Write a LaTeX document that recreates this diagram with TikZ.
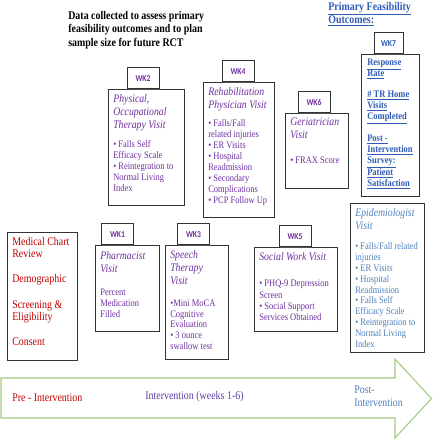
\documentclass[tikz,border=0pt]{standalone}
\usepackage{fontspec}
\setmainfont[FakeStretch=0.85]{Liberation Serif}
\newfontfamily\tabfont[FakeStretch=0.85]{Carlito}
\usepackage{xcolor}
\usepackage{tikz}
\usetikzlibrary{shadows}

\definecolor{purp}{RGB}{112,48,160}
\definecolor{ivpurp}{RGB}{92,60,168}
\definecolor{redtxt}{RGB}{192,0,0}
\definecolor{bluetxt}{RGB}{47,92,180}
\definecolor{lblue}{RGB}{79,129,189}
\definecolor{arrgreen}{RGB}{165,202,130}

\begin{document}
\begin{tikzpicture}[x=1pt, y=-1pt, semithick]
 	  \tikzstyle{box}=[draw=black!80, fill=white, anchor=north west, inner sep=0pt,
        drop shadow={shadow xshift=0.8pt, shadow yshift=-0.8pt, fill=black!60, opacity=0.6}]
 	  \tikzstyle{tab}=[box, anchor=south, minimum width=32, minimum height=21, text=purp,
        font=\tabfont\bfseries\fontsize{9}{10}\selectfont]
 	  \tikzstyle{txt}=[anchor=north west, inner sep=0pt, align=left]
 	  \tikzstyle{hd}=[txt, text=purp, font=\itshape\fontsize{11.5}{12.8}\selectfont]
 	  \tikzstyle{bul}=[txt, text=purp, font=\fontsize{10}{11}\selectfont]
\useasboundingbox (0,0) rectangle (432,440);
% timeline arrow
\draw[arrgreen, line width=1.1pt, line join=miter]
    (1,378) -- (395,378) -- (395,359) -- (431.5,398.5) -- (395,438) -- (395,418) -- (1,418) -- cycle;
\node[anchor=west, inner sep=0pt, text=redtxt, font=\fontsize{11.7}{12}\selectfont] (pre) at (12,397.7) {Pre - Intervention};
\node[anchor=west, inner sep=0pt, text=ivpurp, font=\fontsize{11.7}{12}\selectfont] (during) at (145,396.2) {Intervention (weeks 1-6)};
\node[txt, text=lblue, font=\fontsize{11.7}{13.4}\selectfont] (post) at (354,385.2) {Post-\\Intervention};
% headers
\node[txt, font=\bfseries\fontsize{11.7}{13.5}\selectfont] (title) at (68,10.9)
    {Data collected to assess primary\\feasibility outcomes and to plan\\sample size for future RCT};
\node[txt, text=bluetxt, font=\bfseries\fontsize{11.7}{13}\selectfont] (outhd) at (328,1.9)
    {\underline{Primary Feasibility}\\\underline{Outcomes:}};
% boxes
\node[box, minimum width=76, minimum height=116] (ptbox) at (108,89) {};
\node[box, minimum width=71, minimum height=135] (rehab) at (203,82) {};
\node[box, minimum width=63, minimum height=75] (geri) at (285,113) {};
\node[box, minimum width=58, minimum height=142] (outc) at (361,54) {};
\node[box, minimum width=74, minimum height=149] (epid) at (350,203) {};
\node[box, minimum width=70, minimum height=128] (chart) at (7,232) {};
\node[box, minimum width=64, minimum height=86] (pharm) at (95,245) {};
\node[box, minimum width=63, minimum height=114] (speech) at (165,245) {};
\node[box, minimum width=83, minimum height=84] (social) at (254,247) {};
% week tabs
\foreach \x/\y/\n in {117.5/245/1, 143/89/2, 193.5/245/3, 238/82/4, 295/247/5, 314/113/6}{
    \node[tab] (wk\n) at (\x,\y) {WK\n};
      }
\node[tab, text=bluetxt, minimum width=29] (wk7) at (388.5,54) {WK7};
% box texts
\node[hd] (pthd) at (113,94.4) {Physical,\\Occupational\\Therapy Visit};
\node[bul] (ptlist) at (113,140.5) {\textbullet{} Falls Self\\Efficacy Scale\\\textbullet{} Reintegration to\\Normal Living\\Index};
\node[hd] (rehabhd) at (208,87) {Rehabilitation\\Physician Visit};
\node[bul] (rehablist) at (208,119.5) {\textbullet{} Falls/Fall\\related injuries\\\textbullet{} ER Visits\\\textbullet{} Hospital\\Readmission\\\textbullet{} Secondary\\Complications\\\textbullet{} PCP Follow Up};
\node[hd] (gerihd) at (290,118) {Geriatrician\\Visit};
\node[bul] (gerilist) at (290,156.5) {\textbullet{} FRAX Score};
\node[txt, text=bluetxt, font=\bfseries\fontsize{10}{11}\selectfont] (outlist) at (367,58.5)
    {\underline{Response}\\\underline{Rate}\\[10pt]\underline{\# TR Home}\\\underline{Visits}\\\underline{Completed}\\[11pt]%
     \underline{Post -}\\\underline{Intervention}\\\underline{Survey:}\\\underline{Patient}\\\underline{Satisfaction}};
\node[hd, text=lblue] (epidhd) at (355,208.4) {Epidemiologist\\Visit};
\node[bul, text=lblue, font=\fontsize{10}{10.9}\selectfont] (epidlist) at (355,242.2)
    {\textbullet{} Falls/Fall related\\injuries\\\textbullet{} ER Visits\\\textbullet{} Hospital\\Readmission\\\textbullet{} Falls Self\\Efficacy Scale\\\textbullet{} Reintegration to\\Normal Living\\Index};
\node[txt, text=redtxt, font=\fontsize{11.7}{12}\selectfont] (chartlist) at (12,236.6)
    {Medical Chart\\Review\\[13.3pt]Demographic\\[14pt]Screening \&\\Eligibility\\[13pt]Consent};
\node[hd] (pharmhd) at (100,251) {Pharmacist\\Visit};
\node[bul, font=\fontsize{10}{11.2}\selectfont] (pharmlist) at (100,288.2) {Percent\\Medication\\Filled};
\node[hd] (speechhd) at (170,250.4) {Speech\\Therapy\\Visit};
\node[bul, font=\fontsize{10}{10.9}\selectfont] (speechlist) at (170,299.2) {\textbullet Mini MoCA\\Cognitive\\Evaluation\\\textbullet{} 3 ounce\\swallow test};
\node[hd] (socialhd) at (259,252.7) {Social Work Visit};
\node[bul, font=\fontsize{10}{11.3}\selectfont] (sociallist) at (259,279.8) {\textbullet{} PHQ-9 Depression\\Screen\\\textbullet{} Social Support\\Services Obtained};
   \end{tikzpicture}
\end{document}
